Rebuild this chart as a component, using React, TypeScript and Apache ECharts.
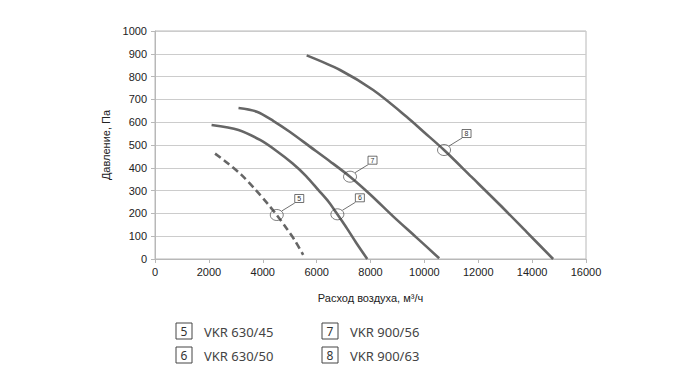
import React, { useEffect, useRef } from "react";
import * as echarts from "echarts";

const xTicks = [0, 2000, 4000, 6000, 8000, 10000, 12000, 14000, 16000];
const curve5: [number, number][] = [
  [2230, 462], [2700, 420], [3200, 370], [3700, 308], [4200, 240], [4520, 193], [4900, 132], [5200, 80], [5500, 18],
];
const curve6: [number, number][] = [
  [2100, 588], [3100, 566], [3900, 522], [4500, 475], [5100, 420], [5600, 365], [6060, 303], [6450, 250], [6770, 196], [7150, 130], [7480, 69], [7880, 0],
];
const curve7: [number, number][] = [
  [3100, 662], [3780, 646], [4400, 605], [5000, 558], [5750, 493], [6500, 428], [7240, 361], [8000, 282], [8850, 186], [9700, 95], [10550, 3],
];
const curve8: [number, number][] = [
  [5630, 893], [6870, 829], [8100, 741], [9340, 624], [10000, 555], [10730, 478], [11750, 360], [12800, 238], [13800, 118], [14780, 0],
];
const curveIds = ["5", "6", "7", "8"];
const markers: [number, number][] = [
  [4520, 193], [6770, 196], [7240, 361], [10730, 478],
];
const legendNames = ["VKR 630/45", "VKR 630/50", "VKR 900/56", "VKR 900/63"];

export default function App() {
  const ref = useRef<HTMLDivElement>(null);
  useEffect(() => {
    if (!ref.current) return;
    const chart = echarts.init(ref.current, null, { renderer: "svg" });
    const lineColor = "#666666";
    const curves = [curve5, curve6, curve7, curve8];
    const axisFont = "Liberation Sans";
    const option: any = {
      animation: false,
      backgroundColor: "#ffffff",
      grid: {
        left: 155, right: 114, top: 31, bottom: 123,
        show: true, borderColor: "#b8b8b8", borderWidth: 1, backgroundColor: "transparent",
      },
      xAxis: {
        type: "value", min: xTicks[0], max: xTicks[xTicks.length - 1], interval: xTicks[1] - xTicks[0],
        name: "Расход воздуха, м³/ч", nameLocation: "middle", nameGap: 33,
        nameTextStyle: { fontFamily: axisFont, fontSize: 11, color: "#222" },
        axisLine: { show: true, lineStyle: { color: "#b8b8b8" } },
        axisTick: { show: true, length: 4, lineStyle: { color: "#b8b8b8" } },
        axisLabel: { fontFamily: axisFont, fontSize: 11, color: "#222", margin: 7, formatter: (v: number) => String(v) },
        splitLine: { show: false },
      },
      yAxis: {
        type: "value", min: 0, max: 1000, interval: 100,
        name: "Давление, Па", nameLocation: "middle", nameGap: 42, nameRotate: 90,
        nameTextStyle: { fontFamily: axisFont, fontSize: 11, color: "#222" },
        axisLine: { show: true, lineStyle: { color: "#b8b8b8" } },
        axisTick: { show: true, length: 4, lineStyle: { color: "#b8b8b8" } },
        axisLabel: { fontFamily: axisFont, fontSize: 11, color: "#222", margin: 8, formatter: (v: number) => String(v) },
        splitLine: { show: true, lineStyle: { color: "#cccccc", width: 1 } },
      },
      series: [
        ...curves.map((c, i) => ({
          type: "line", data: c, smooth: 0.3, showSymbol: false, symbol: "none",
          lineStyle: { color: lineColor, width: 2.6, type: i === 0 ? [7, 4] : "solid" },
          z: 2,
        })),
        {
          type: "scatter", data: markers, symbol: "circle", symbolSize: [13, 11],
          itemStyle: { color: "rgba(0,0,0,0)", borderColor: "#333", borderWidth: 0.8 },
          z: 3,
        },
      ],
    };
    chart.setOption(option);

    const graphics: any[] = [];
    markers.forEach((m, i) => {
      const p = chart.convertToPixel({ gridIndex: 0 }, m) as number[];
      const bx = p[0] + 18, by = p[1] - 21;
      graphics.push({
        type: "line", silent: true,
        shape: { x1: p[0] + 5, y1: p[1] - 4, x2: bx, y2: by + 9 },
        style: { stroke: "#333", lineWidth: 0.7 },
      });
      graphics.push({
        type: "rect", shape: { x: bx, y: by + 0.5, width: 9, height: 8 },
        style: { fill: "#fff", stroke: "#333", lineWidth: 0.7 },
      });
      graphics.push({
        type: "text", x: bx + 4.5, y: by + 4.5,
        style: { text: curveIds[i], fontSize: 7, fontFamily: "Liberation Sans", fill: "#333", align: "center", verticalAlign: "middle" },
      });
    });
    legendNames.forEach((name, i) => {
      const col = Math.floor(i / 2), row = i % 2;
      const x = 176 + col * 146, y = 323 + row * 24;
      graphics.push({
        type: "rect", shape: { x, y, width: 16, height: 16 },
        style: { fill: "#fff", stroke: "#444", lineWidth: 1 },
      });
      graphics.push({
        type: "text", x: x + 8, y: y + 8.5,
        style: { text: curveIds[i], fontSize: 12, fontFamily: "Noto Sans", fill: "#333", align: "center", verticalAlign: "middle" },
      });
      graphics.push({
        type: "text", x: x + 28, y: y + 8.5,
        style: { text: name, fontSize: 13, fontFamily: "Noto Sans", fill: "#444", align: "left", verticalAlign: "middle" },
      });
    });
    chart.setOption({ graphic: graphics });
    return () => chart.dispose();
  }, []);
  return <div ref={ref} style={{ width: 700, height: 382, position: "absolute", left: 0, top: 0 }} />;
}
